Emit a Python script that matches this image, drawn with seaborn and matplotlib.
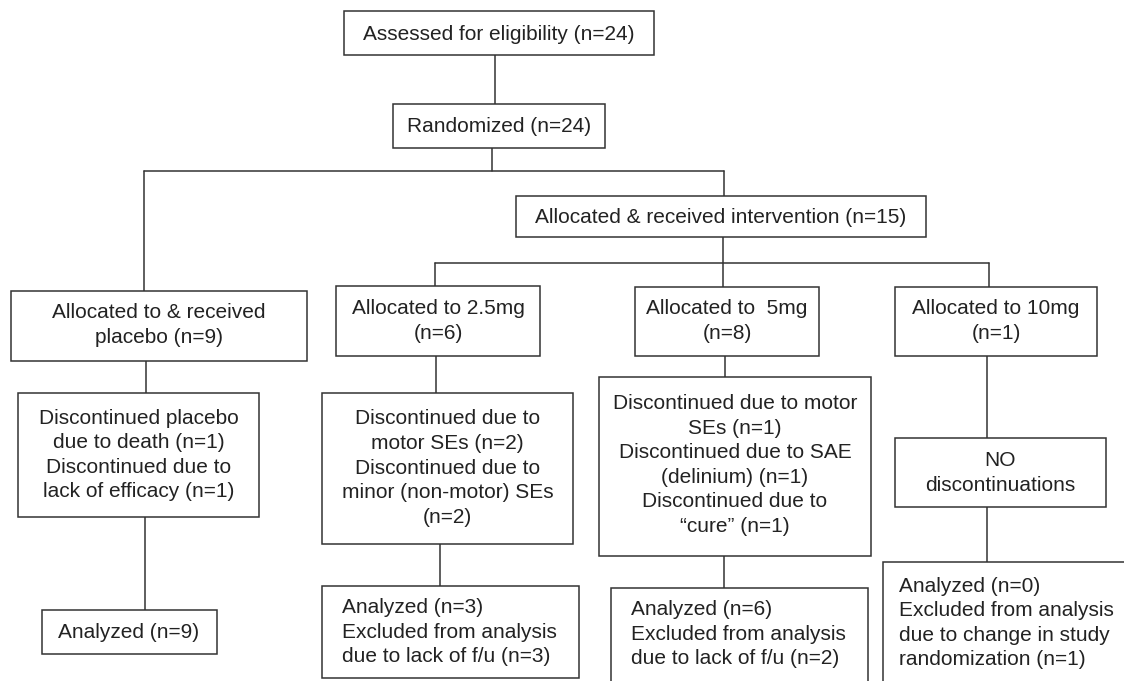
"""
CONSORT-style flow diagram of the dose-allocation trial, drawn on a
pixel-sized axes so boxes and connectors sit where they do in the figure.
"""

import matplotlib.pyplot as plt
from matplotlib.patches import Rectangle
import seaborn as sns

sns.set_theme(style="white")
plt.rcParams['font.family'] = ['Liberation Sans', 'DejaVu Sans']

# ---- chart content ----
top_labels = ["Assessed for eligibility (n=24)",
              "Randomized (n=24)",
              "Allocated & received intervention (n=15)"]
arm_labels = ["Allocated to & received\nplacebo (n=9)",
              "Allocated to 2.5mg\n(n=6)",
              "Allocated to  5mg\n(n=8)",
              "Allocated to 10mg\n(n=1)"]
discontinued_labels = ["Discontinued placebo\ndue to death (n=1)\n"
                       "Discontinued due to\nlack of efficacy (n=1)",
                       "Discontinued due to\nmotor SEs (n=2)\n"
                       "Discontinued due to\nminor (non-motor) SEs\n(n=2)",
                       "Discontinued due to motor\nSEs (n=1)\n"
                       "Discontinued due to SAE\n(delinium) (n=1)\n"
                       "Discontinued due to\n\u201ccure\u201d (n=1)",
                       "NO\ndiscontinuations"]
analyzed_labels = ["Analyzed (n=9)",
                   "Analyzed (n=3)\nExcluded from analysis\n"
                   "due to lack of f/u (n=3)",
                   "Analyzed (n=6)\nExcluded from analysis\n"
                   "due to lack of f/u (n=2)",
                   "Analyzed (n=0)\nExcluded from analysis\n"
                   "due to change in study\nrandomization (n=1)"]

# ---- layout (pixel coords, y grows downward) ----
top_boxes = [(344, 11, 654, 55), (393, 104, 605, 148), (516, 196, 926, 237)]
arm_boxes = [(11, 291, 307, 361), (336, 286, 540, 356),
             (635, 287, 819, 356), (895, 287, 1097, 356)]
disc_boxes = [(18, 393, 259, 517), (322, 393, 573, 544),
              (599, 377, 871, 556), (895, 438, 1106, 507)]
anal_boxes = [(42, 610, 217, 654), (322, 586, 579, 678),
              (611, 588, 868, 695), (883, 562, 1135, 695)]
anal_text = [(129, 632, 'center'), (342, 632, 'left'),
             (631, 634, 'left'), (899, 623, 'left')]
disc_text_y = [455, 468, 465, 473]
arm_text_y = [325, 321, 321, 321]

connectors = [
    [(495, 55), (495, 104)],
    [(492, 148), (492, 171)],
    [(144, 171), (724, 171)],
    [(144, 171), (144, 291)],
    [(724, 171), (724, 196)],
    [(723, 237), (723, 287)],
    [(435, 263), (989, 263)],
    [(435, 263), (435, 286)],
    [(989, 263), (989, 287)],
    [(146, 361), (146, 393)],
    [(145, 517), (145, 610)],
    [(436, 356), (436, 393)],
    [(440, 544), (440, 586)],
    [(725, 356), (725, 377)],
    [(724, 556), (724, 588)],
    [(987, 356), (987, 438)],
    [(987, 507), (987, 562)],
]

line_color = '#333333'
text_color = '#222222'
fs = 15
spacing = 1.37


def draw_box(ax, box):
    x0, y0, x1, y1 = box
    ax.add_patch(Rectangle((x0, y0), x1 - x0, y1 - y0, facecolor='white',
                           edgecolor=line_color, linewidth=1.1, zorder=2))


def put_text(ax, x, y, label, ha='center'):
    ax.text(x, y, label, ha=ha, va='center', fontsize=fs, color=text_color,
            linespacing=spacing, zorder=3)


def main():
    fig = plt.figure(figsize=(11.24, 6.81), dpi=100)
    ax = fig.add_axes([0, 0, 1, 1])
    ax.set_xlim(0, 1124)
    ax.set_ylim(681, 0)
    ax.axis('off')

    for seg in connectors:
        xs, ys = zip(*seg)
        ax.plot(xs, ys, color=line_color, linewidth=1.1, zorder=1)

    for box, label in zip(top_boxes, top_labels):
        draw_box(ax, box)
        put_text(ax, (box[0] + box[2]) / 2, (box[1] + box[3]) / 2 + 1, label)

    for box, label, ty in zip(arm_boxes, arm_labels, arm_text_y):
        draw_box(ax, box)
        put_text(ax, (box[0] + box[2]) / 2, ty, label)

    for box, label, ty in zip(disc_boxes, discontinued_labels, disc_text_y):
        draw_box(ax, box)
        put_text(ax, (box[0] + box[2]) / 2, ty, label)

    for box, label, (tx, ty, ha) in zip(anal_boxes, analyzed_labels,
                                        anal_text):
        draw_box(ax, box)
        put_text(ax, tx, ty, label, ha=ha)

    fig.savefig('out.png', dpi=100)


if __name__ == '__main__':
    main()
